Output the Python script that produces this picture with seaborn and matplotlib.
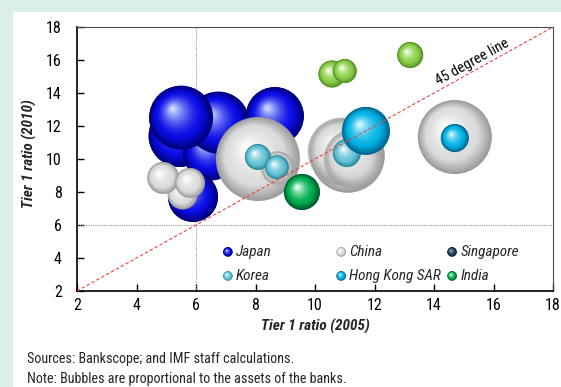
import numpy as np
import pandas as pd
import matplotlib
matplotlib.use("Agg")
import matplotlib.pyplot as plt
from matplotlib.patches import Rectangle
from matplotlib.colors import to_rgb
from matplotlib import font_manager
import seaborn as sns

# ---- data -------------------------------------------------------------
countries = ["Japan", "Japan", "Japan", "Japan", "Japan", "Japan",
             "China", "China", "China", "China", "China", "China", "China", "China", "China",
             "Korea", "Korea", "Korea",
             "Hong Kong SAR", "Hong Kong SAR",
             "India",
             "Singapore", "Singapore", "Singapore"]
tier1_2005 = [5.45, 6.50, 6.75, 5.50, 8.65, 5.90,
              5.55, 4.90, 5.80, 8.08, 8.75, 11.10, 10.90, 11.30, 14.70,
              8.08, 8.72, 11.07,
              11.71, 14.70,
              9.56,
              10.57, 11.00, 13.20]
tier1_2010 = [11.40, 10.40, 12.20, 12.50, 12.60, 7.70,
              7.85, 8.85, 8.55, 10.00, 9.45, 10.20, 10.45, 10.00, 11.33,
              10.12, 9.50, 10.36,
              11.70, 11.27,
              8.00,
              15.15, 15.33, 16.30]
assets = [1710, 1395, 1710, 1820, 1495, 1110,
          400, 455, 400, 3135, 515, 2435, 2055, 1600, 2435,
          300, 255, 350,
          1025, 350,
          575,
          325, 255, 300]
ghost = [0, 0, 0, 0, 0, 0,
         0, 0, 0, 0, 1, 0, 1, 1, 0,
         0, 0, 0,
         0, 0,
         0,
         0, 0, 0]

legend_order = ["Japan", "China", "Singapore", "Korea", "Hong Kong SAR", "India"]
x_ticks = [2, 4, 6, 8, 10, 12, 14, 16, 18]
y_ticks = [2, 4, 6, 8, 10, 12, 14, 16, 18]
diag = [2, 18]
ref_level = 6

df = pd.DataFrame({"country": countries, "x": tier1_2005, "y": tier1_2010,
                   "assets": assets, "ghost": ghost})

# dark rim, body, highlight for each shaded sphere
bubble_shades = {
    "Japan": ("#000078", "#0a0ce6", "#c8d6ff"),
    "China": ("#9c9c9c", "#dcdcdc", "#ffffff"),
    "Korea": ("#2a8898", "#66c4d6", "#effcff"),
    "Hong Kong SAR": ("#00648f", "#00b2e4", "#d2f6ff"),
    "India": ("#005a2c", "#00ac50", "#e6ffee"),
    "Singapore": ("#54902a", "#8ccf48", "#f6ffe8"),
}
legend_shades = dict(bubble_shades)
legend_shades["Singapore"] = ("#061828", "#24445e", "#9ab4c6")

# ---- fonts: prefer a condensed sans if one is installed ----------------
installed = sorted({f.name for f in font_manager.fontManager.ttflist})
narrow = [n for n in installed if ("Narrow" in n or "Condensed" in n)]
preferred = [n for n in ["Liberation Sans Narrow", "Roboto Condensed", "Open Sans Condensed"]
             if n in installed]
main_font = (preferred or narrow or ["Liberation Sans"])[0]

# ---- figure -----------------------------------------------------------
W, H, DPI = 561, 387, 100
sns.set_theme(style="white")
plt.rcParams["font.family"] = [main_font, "DejaVu Sans"]

fig = plt.figure(figsize=(W / DPI, H / DPI), dpi=DPI, facecolor="#d9efe6")
fig.patches.append(Rectangle((13 / W, 0), 1 - 13 / W, 1 - 12 / H,
                             transform=fig.transFigure, facecolor="white",
                             edgecolor="none", zorder=-5))
ax = fig.add_axes([77 / W, (H - 291) / H, 476 / W, 264 / H])
ax.set_zorder(1)
ax.set_facecolor("white")
ax.set_xlim(x_ticks[0], x_ticks[-1])
ax.set_ylim(y_ticks[0], y_ticks[-1])

# reference lines
ax.axvline(ref_level, color="#9a9a9a", lw=0.8, ls=(0, (1, 1)), zorder=1)
ax.axhline(ref_level, color="#9a9a9a", lw=0.8, ls=(0, (1, 1)), zorder=1)

# pixel radius grows with the square root of assets (area ~ assets)
R_PER_SQRT = 0.75
amax = max(assets)
smax = (2 * R_PER_SQRT * np.sqrt(amax) * 72 / DPI) ** 2

# flat base layer of the bubbles
sns.scatterplot(data=df, x="x", y="y", hue="country",
                palette={k: v[1] for k, v in bubble_shades.items()},
                size="assets", sizes=(0, smax), size_norm=(0, amax),
                linewidth=0, legend=False, ax=ax, zorder=2)
ax.set_xlim(x_ticks[0], x_ticks[-1])
ax.set_ylim(y_ticks[0], y_ticks[-1])


def mix(c1, c2, t):
    a, b = np.array(to_rgb(c1)), np.array(to_rgb(c2))
    return a + (b - a) * t


def draw_sphere(px, py, r, shades, trans, alpha=1.0, z=3, n=30):
    dark, mid, light = shades
    ts = np.linspace(0, 1, n)
    scales = 1 - 0.93 * ts
    ox = -0.26 * r * ts
    oy = 0.28 * r * ts
    cols = [mix(dark, mid, t / 0.30) if t < 0.30
            else mix(mid, light, ((t - 0.30) / 0.70) ** 1.5) for t in ts]
    pts = trans.inverted().transform(np.column_stack([px + ox, py + oy]))
    sizes = (2 * r * scales * 72 / DPI) ** 2
    ax.scatter(pts[:, 0], pts[:, 1], s=sizes, c=cols, linewidths=0,
               alpha=alpha, transform=trans, zorder=z)


# shaded bubbles, back to front
centres = ax.transData.transform(df[["x", "y"]].to_numpy())
for i, row in df.iterrows():
    r = R_PER_SQRT * np.sqrt(row["assets"])
    draw_sphere(centres[i, 0], centres[i, 1], r, bubble_shades[row["country"]],
                ax.transData, alpha=0.45 if row["ghost"] else 1.0, z=3 + i * 0.01)

# 45 degree line
ax.plot(diag, diag, color="#e8463c", lw=0.8, ls=(0, (3, 2)), zorder=4)
p0, p1 = ax.transData.transform([(diag[0], diag[0]), (diag[1], diag[1])])
angle = np.degrees(np.arctan2(p1[1] - p0[1], p1[0] - p0[0]))
ax.text(15.28, 15.9, "45 degree line", rotation=angle, rotation_mode="anchor",
        ha="center", va="center", fontsize=10.5, color="black", zorder=5)

# legend: small shaded balls with italic labels
leg_x = [0.317, 0.555, 0.788]
leg_y = [0.148, 0.057]
for k, name in enumerate(legend_order):
    lx, ly = leg_x[k % 3], leg_y[k // 3]
    c = ax.transAxes.transform((lx, ly))
    draw_sphere(c[0], c[1], 4.8, legend_shades[name], ax.transAxes, z=6, n=16)
    ax.text(lx + 0.017, ly, name, transform=ax.transAxes, ha="left", va="center",
            fontsize=11, fontstyle="italic", zorder=6)

# axes styling
ax.set_xticks(x_ticks)
ax.set_yticks(y_ticks)
ax.tick_params(axis="both", direction="in", length=5, width=1, colors="black",
               labelsize=11.5, bottom=True, left=True, top=False, right=False)
ax.tick_params(axis="x", pad=5)
ax.tick_params(axis="y", pad=11)
for side in ["left", "bottom"]:
    ax.spines[side].set_color("black")
    ax.spines[side].set_linewidth(1.2)
for side in ["top", "right"]:
    ax.spines[side].set_color("#4a4a4a")
    ax.spines[side].set_linewidth(0.8)
ax.grid(False)

ax.set_xlabel("Tier 1 ratio (2005)", fontsize=11, fontweight="bold", fontstyle="italic")
ax.set_ylabel("Tier 1 ratio (2010)", fontsize=11, fontweight="bold", fontstyle="italic")
ax.xaxis.set_label_coords(0.5, -0.105)
ax.yaxis.set_label_coords(-0.085, 0.52)

fig.text(27 / W, 1 - 359 / H, "Sources: Bankscope; and IMF staff calculations.",
         fontsize=10.2, va="center", ha="left")
fig.text(27 / W, 1 - 379 / H, "Note: Bubbles are proportional to the assets of the banks.",
         fontsize=10.2, va="center", ha="left")

fig.savefig("out.png", dpi=DPI, facecolor=fig.get_facecolor())
